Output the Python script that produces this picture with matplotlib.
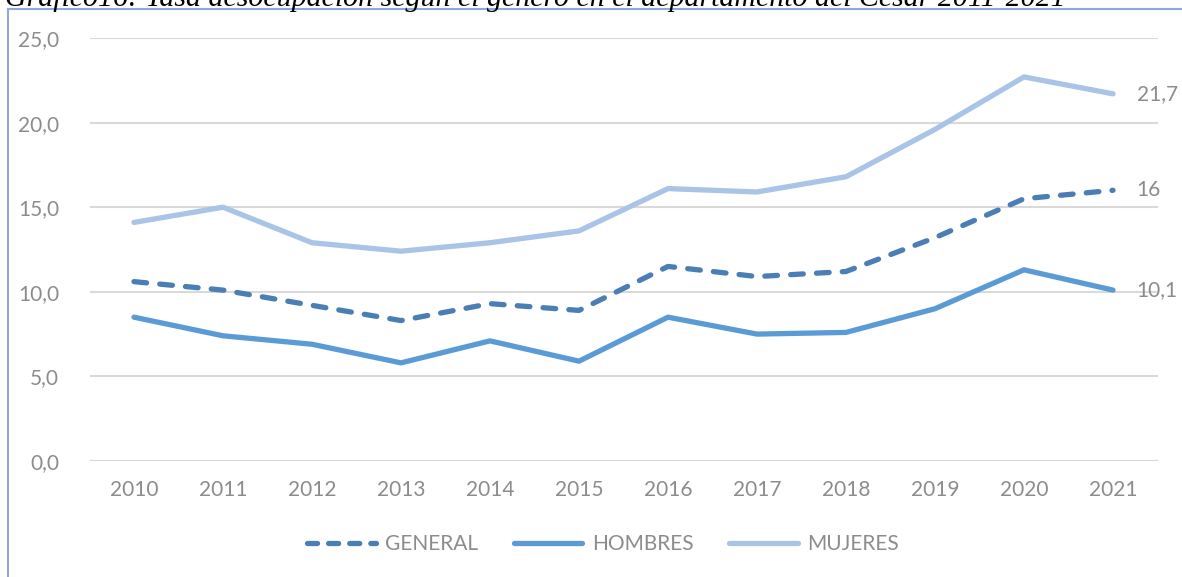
import matplotlib.pyplot as plt
from matplotlib.lines import Line2D

years = ['2010', '2011', '2012', '2013', '2014', '2015', '2016', '2017', '2018', '2019', '2020', '2021']
general = [10.6, 10.1, 9.2, 8.3, 9.3, 8.9, 11.5, 10.9, 11.2, 13.2, 15.5, 16.0]
hombres = [8.5, 7.4, 6.9, 5.8, 7.1, 5.9, 8.5, 7.5, 7.6, 9.0, 11.3, 10.1]
mujeres = [14.1, 15.0, 12.9, 12.4, 12.9, 13.6, 16.1, 15.9, 16.8, 19.6, 22.7, 21.7]
end_labels = ['16', '10,1', '21,7']
yticks = [0, 5, 10, 15, 20, 25]

title = 'Gráfico16: Tasa desocupación según el género en el departamento del Cesar 2011-2021'

c_gen = '#4A7EB4'
c_hom = '#5B9BD5'
c_muj = '#A9C4E6'
gray = '#8C8C8C'

plt.rcParams['font.family'] = ['Lato', 'DejaVu Sans']

fig = plt.figure(figsize=(11.82, 5.77), dpi=100)
ax = fig.add_axes([89.5 / 1182, 116 / 577, 1068 / 1182, 423 / 577])

x = list(range(len(years)))
lw = 3.8
ax.plot(x, mujeres, color=c_muj, lw=lw, solid_capstyle='round', solid_joinstyle='round', label='MUJERES')
ax.plot(x, hombres, color=c_hom, lw=lw, solid_capstyle='round', solid_joinstyle='round', label='HOMBRES')
ax.plot(x, general, color=c_gen, lw=lw, dashes=(2.4, 2.5), dash_capstyle='round', label='GENERAL')

for vals, lab in zip([general, hombres, mujeres], end_labels):
    ax.annotate(lab, (x[-1], vals[-1]), xytext=(17, 0), textcoords='offset points',
                va='center', ha='left', color=gray, fontsize=15)

ax.set_xlim(-0.5, len(years) - 0.5)
ax.set_ylim(0, 25)
ax.set_yticks(yticks)
ax.set_yticklabels([f'{v:.1f}'.replace('.', ',') for v in yticks])
ax.set_xticks(x)
ax.set_xticklabels(years)
ax.yaxis.grid(True, color='#D9D9D9', lw=1.5)
ax.set_axisbelow(True)
for s in ax.spines.values():
    s.set_visible(False)
ax.tick_params(length=0, labelsize=15, labelcolor=gray)
ax.tick_params(axis='y', pad=22)
ax.tick_params(axis='x', pad=14)

handles = [
    Line2D([], [], color=c_gen, lw=lw, dashes=(1.9, 2.1), dash_capstyle='round'),
    Line2D([], [], color=c_hom, lw=lw, solid_capstyle='round'),
    Line2D([], [], color=c_muj, lw=lw, solid_capstyle='round'),
]
leg = fig.legend(handles, ['GENERAL', 'HOMBRES', 'MUJERES'], loc='center', bbox_to_anchor=(0.51, 1 - 544 / 577),
                 ncol=3, frameon=False, handlelength=3.3, handletextpad=0.45, columnspacing=1.7,
                 prop={'size': 15})
for t in leg.get_texts():
    t.set_color(gray)

# frame of the chart box and the cut-off caption above it
fig.add_artist(Line2D([8 / 1182, 1], [1 - 9 / 577, 1 - 9 / 577], color='#8EAADB', lw=1.5))
fig.add_artist(Line2D([8 / 1182, 8 / 1182], [0, 1 - 9 / 577], color='#8EAADB', lw=1.5))
fig.text(5 / 1182, 1 - 6 / 577, title, ha='left', va='baseline', fontsize=21.5, style='italic',
         family='Liberation Serif', color='black')

fig.savefig('out.png', dpi=100)
